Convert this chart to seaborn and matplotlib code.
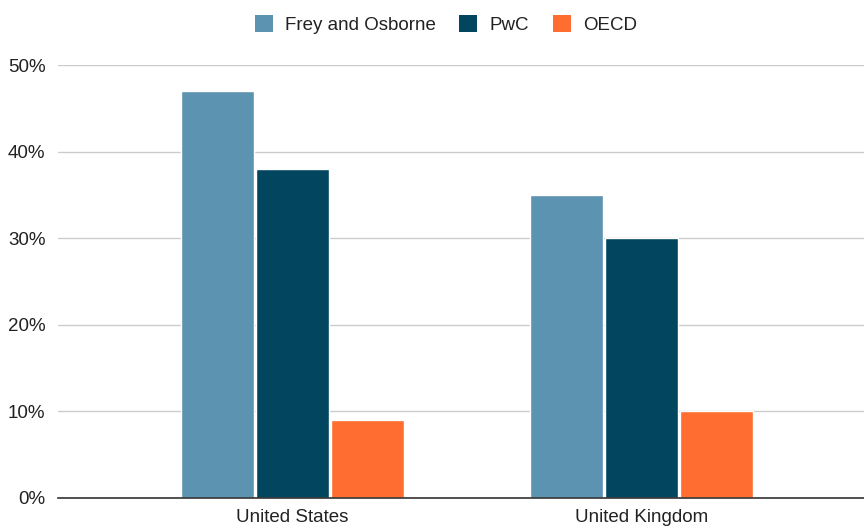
import matplotlib
matplotlib.use("Agg")
import matplotlib.pyplot as plt
import seaborn as sns
import pandas as pd
from matplotlib.ticker import PercentFormatter

countries = ["United States", "United Kingdom"]
sources = ["Frey and Osborne", "PwC", "OECD"]
frey = [0.47, 0.35]
pwc = [0.38, 0.30]
oecd = [0.09, 0.10]
colors = ["#5B93B0", "#02455F", "#FF6D31"]
yticks = [0, 0.1, 0.2, 0.3, 0.4, 0.5]

rows = []
for name, vals in zip(sources, [frey, pwc, oecd]):
    for c, v in zip(countries, vals):
        rows.append({"country": c, "source": name, "value": v})
df = pd.DataFrame(rows)

sns.set_theme(style="white")
plt.rcParams["font.family"] = ["Liberation Sans", "DejaVu Sans"]

fig = plt.figure(figsize=(8.64, 5.26), dpi=100)
ax = fig.add_axes([58/864, 1-498/526, 1-58/864, (498-65)/526])
sns.barplot(data=df, x="country", y="value", hue="source", order=countries,
            hue_order=sources, palette=colors, width=0.645, gap=0.035,
            saturation=1, ax=ax, legend=False)

ax.set_xlim(-0.672, 1.637)
ax.set_ylim(0, 0.5)
ax.set_yticks(yticks)
ax.yaxis.set_major_formatter(PercentFormatter(1.0, decimals=0))
ax.grid(axis="y", color="#CCCCCC", linewidth=1)
ax.set_axisbelow(True)
for s in ["top", "right", "left"]:
    ax.spines[s].set_visible(False)
ax.spines["bottom"].set_color("#333333")
ax.spines["bottom"].set_linewidth(1.2)
ax.spines["bottom"].set_zorder(5)
ax.tick_params(axis="both", length=0, labelsize=13.5, colors="#222222")
ax.tick_params(axis="x", pad=8)
ax.tick_params(axis="y", pad=9)
ax.set_xlabel("")
ax.set_ylabel("")

from matplotlib.patches import Patch
handles = [Patch(facecolor=c, edgecolor="none") for c in colors]
fig.legend(handles, sources, loc="upper center", bbox_to_anchor=(0.516, 1.003),
           ncol=3, frameon=False, fontsize=13.5, handlelength=0.96, handleheight=0.96,
           columnspacing=1.25, handletextpad=0.65, labelcolor="#222222")

fig.savefig("out.png", dpi=100)
